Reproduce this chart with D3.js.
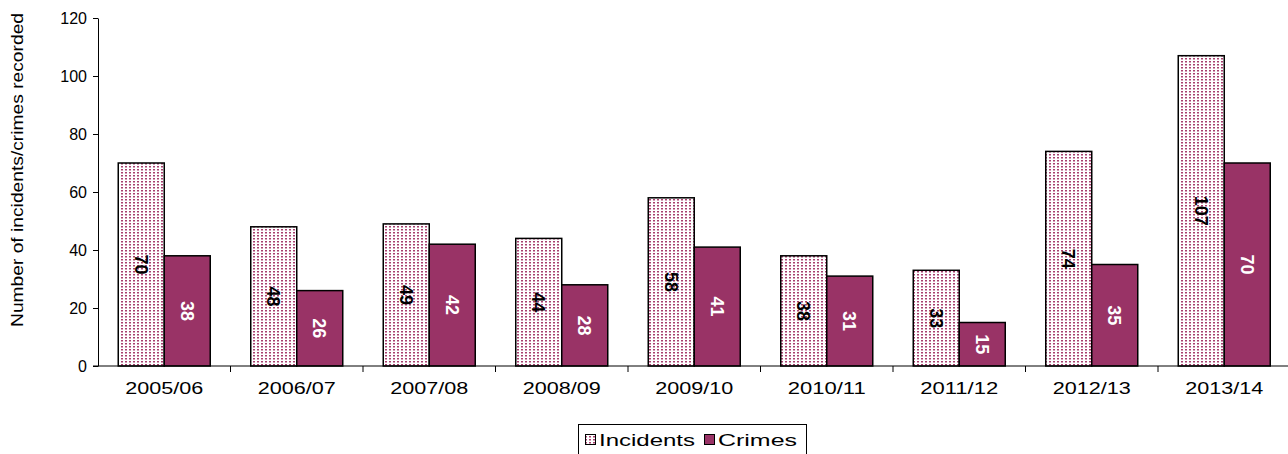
<!DOCTYPE html>
<html><head><meta charset="utf-8">
<script src="https://cdn.jsdelivr.net/npm/d3@7"></script>
<style>body{margin:0;background:#fff;} svg{display:block;font-family:"Liberation Sans",Arial,sans-serif;}</style>
</head><body><svg id="c" width="1288" height="454"></svg>
<script>
const categories = ["2005/06","2006/07","2007/08","2008/09","2009/10","2010/11","2011/12","2012/13","2013/14"];
const incidents = [70,48,49,44,58,38,33,74,107];
const crimes = [38,26,42,28,41,31,15,35,70];
const seriesNames = ["Incidents","Crimes"];
const yTicks = [0,20,40,60,80,100,120];

(function(){
const svg = d3.select("#c");
const defs = svg.append("defs");
const pat = defs.append("pattern").attr("id","dots").attr("patternUnits","userSpaceOnUse")
  .attr("width",4).attr("height",3);
pat.append("rect").attr("width",4).attr("height",3).attr("fill","#fff");
pat.append("rect").attr("x",1).attr("y",1).attr("width",2).attr("height",1.5).attr("fill","#a8406f");

const mLeft = 98, mRight = 1290.5, mTop = 18, mBottom = 366;
const x = d3.scaleBand().domain(categories).range([mLeft,mRight]).paddingInner(0).paddingOuter(0);
const y = d3.scaleLinear().domain([0,120]).range([mBottom,mTop]);
const groupW = 92;
const xs = d3.scaleBand().domain(seriesNames).range([0,groupW]);

const data = categories.map((c,i)=>({cat:c, vals:[incidents[i],crimes[i]]}));
const fills = ["url(#dots)","#993366"];
const textCol = ["#000","#fff"];

const g = svg.append("g");
data.forEach(d=>{
  const x0 = x(d.cat) + (x.bandwidth()-groupW)/2;
  d.vals.forEach((v,j)=>{
    const bx = x0 + xs(seriesNames[j]);
    g.append("rect").attr("x",bx).attr("y",y(v)).attr("width",xs.bandwidth()).attr("height",y(0)-y(v))
      .attr("fill",fills[j]).attr("stroke","#000").attr("stroke-width",1.5);
    const cx = bx + xs.bandwidth()/2, cy = (y(v)+y(0))/2;
    g.append("text").attr("transform",`translate(${cx},${cy}) rotate(90)`)
      .attr("text-anchor","middle").attr("dy","0.36em")
      .attr("font-size",18).attr("font-weight","bold").attr("fill",textCol[j]).text(v);
  });
});

const ya = svg.append("g").attr("transform",`translate(${mLeft},0)`)
  .call(d3.axisLeft(y).tickValues(yTicks).tickSize(5).tickPadding(6).tickSizeOuter(0));
ya.select(".domain").attr("stroke","#000");
ya.selectAll("text").attr("font-size",16).attr("fill","#000").style("font-family","'Liberation Sans',Arial,sans-serif");

const xa = svg.append("g").attr("transform",`translate(0,${mBottom})`);
xa.append("line").attr("x1",mLeft-5).attr("x2",1288).attr("y1",0).attr("y2",0).attr("stroke","#000");
categories.forEach((c,i)=>{
  const tx = x(c);
  if(i>0) xa.append("line").attr("x1",tx).attr("x2",tx).attr("y1",0).attr("y2",6).attr("stroke","#000");
});
xa.selectAll("text.cat").data(categories).join("text").attr("class","cat")
  .attr("x",d=>x(d)+x.bandwidth()/2).attr("y",28).attr("text-anchor","middle")
  .attr("font-size",16).attr("textLength",78).attr("lengthAdjust","spacingAndGlyphs").text(d=>d);

svg.append("text").attr("transform","translate(23,170) rotate(-90)").attr("text-anchor","middle")
  .attr("font-size",16).attr("textLength",314).attr("lengthAdjust","spacingAndGlyphs")
  .text("Number of incidents/crimes recorded");

const lg = svg.append("g");
lg.append("rect").attr("x",578.5).attr("y",424.5).attr("width",228).attr("height",32).attr("fill","#fff").attr("stroke","#000");
lg.append("rect").attr("x",585.5).attr("y",434.5).attr("width",10).attr("height",10).attr("fill",fills[0]).attr("stroke","#000");
lg.append("text").attr("x",599).attr("y",446).attr("font-size",16).attr("textLength",96).attr("lengthAdjust","spacingAndGlyphs").text(seriesNames[0]);
lg.append("rect").attr("x",704.5).attr("y",434.5).attr("width",10).attr("height",10).attr("fill",fills[1]).attr("stroke","#000");
lg.append("text").attr("x",718).attr("y",446).attr("font-size",16).attr("textLength",79).attr("lengthAdjust","spacingAndGlyphs").text(seriesNames[1]);
})();
</script></body></html>
